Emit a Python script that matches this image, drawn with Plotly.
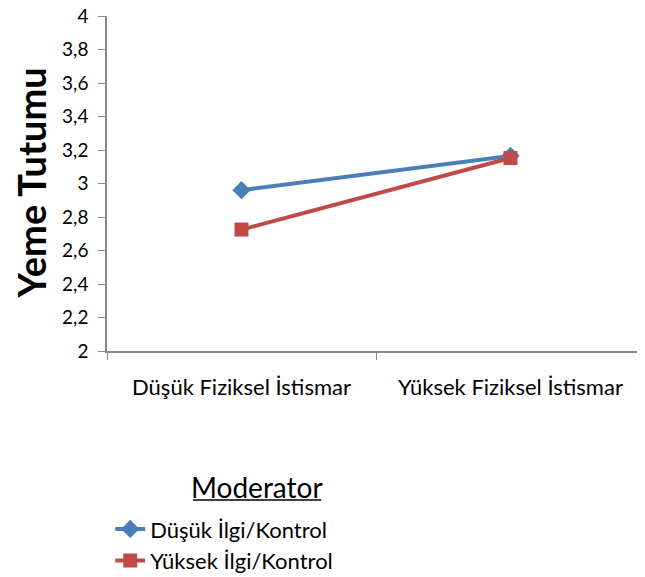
import plotly.graph_objects as go

categories = ["Düşük Fiziksel İstismar", "Yüksek Fiziksel İstismar"]
low_interest = [2.96, 3.165]
high_interest = [2.725, 3.152]
series_names = ["Düşük İlgi/Kontrol", "Yüksek İlgi/Kontrol"]
y_ticks = [2, 2.2, 2.4, 2.6, 2.8, 3, 3.2, 3.4, 3.6, 3.8, 4]
y_ticktext = [f"{v:g}".replace(".", ",") for v in y_ticks]

BLUE = "#4A7EBB"
RED = "#BE4B48"
AXIS_GREY = "#888888"
FONT = "Lato, 'Open Sans', sans-serif"

fig = go.Figure()

fig.add_trace(go.Scatter(
    x=categories,
    y=low_interest,
    mode="lines+markers",
    name=series_names[0],
    line=dict(color=BLUE, width=4),
    marker=dict(symbol="diamond", size=14, color=BLUE)
))

fig.add_trace(go.Scatter(
    x=categories,
    y=high_interest,
    mode="lines+markers",
    name=series_names[1],
    line=dict(color=RED, width=4),
    marker=dict(symbol="square", size=14, color=RED)
))

# the page body adds an 8px offset, so the figure is 8px smaller than the window
fig.update_layout(
    width=637,
    height=569,
    margin=dict(t=8, b=226, l=99, r=0, autoexpand=False),
    plot_bgcolor="white",
    paper_bgcolor="white",
    font=dict(family=FONT, color="black"),
    showlegend=True,
    legend=dict(
        x=0.006, xanchor="left",
        y=-0.469, yanchor="top",
        font=dict(size=22, family=FONT, color="black"),
        tracegroupgap=0,
        bgcolor="rgba(0,0,0,0)",
    ),
)

fig.update_xaxes(
    type="category",
    range=[-0.5, 1.5],
    automargin=False,
    showline=True,
    linecolor=AXIS_GREY,
    linewidth=1.5,
    tickson="boundaries",
    ticks="outside",
    ticklen=7,
    tickcolor=AXIS_GREY,
    ticklabelstandoff=16,
    showgrid=False,
    zeroline=False,
    tickfont=dict(size=22, family=FONT, color="black"),
)

fig.update_yaxes(
    range=[2, 4],
    automargin=False,
    tickvals=y_ticks,
    ticktext=y_ticktext,
    ticklabeloverflow="allow",
    showline=True,
    linecolor=AXIS_GREY,
    linewidth=1.5,
    ticks="outside",
    ticklen=7,
    tickcolor=AXIS_GREY,
    ticklabelstandoff=6,
    showgrid=False,
    zeroline=False,
    tickfont=dict(size=19, family=FONT, color="black"),
)

fig.add_annotation(
    text="<b>Yeme Tutumu</b>",
    xref="paper", yref="paper",
    x=-0.143, y=0.5,
    xanchor="center", yanchor="middle",
    textangle=-90,
    showarrow=False,
    font=dict(size=38, family=FONT, color="black"),
)

fig.add_annotation(
    text="Moderator",
    xref="paper", yref="paper",
    x=0.279, y=-0.406,
    xanchor="center", yanchor="middle",
    showarrow=False,
    font=dict(size=28, family=FONT, color="black"),
)
fig.add_shape(
    type="line",
    xref="paper", yref="paper",
    x0=0.160, x1=0.398,
    y0=-0.445, y1=-0.445,
    line=dict(color="black", width=1.5),
)

fig.write_html("out.html")
